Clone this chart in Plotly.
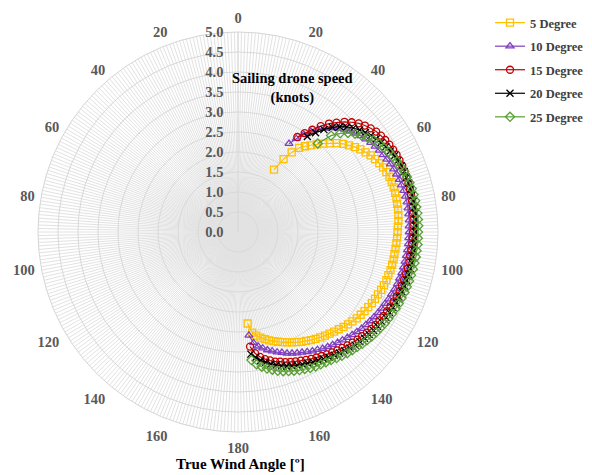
import plotly.graph_objects as go

# True wind angle (degrees) for each data point
twa = [30, 32, 34, 36, 38, 40, 42, 44, 46, 48,
       50, 52, 54, 56, 58, 60, 62, 64, 66, 68,
       70, 72, 74, 76, 78, 80, 82, 84, 86, 88,
       90, 92, 94, 96, 98, 100, 102, 104, 106, 108,
       110, 112, 114, 116, 118, 120, 122, 124, 126, 128,
       130, 132, 134, 136, 138, 140, 142, 144, 146, 148,
       150, 152, 154, 156, 158, 160, 162, 164, 166, 168,
       170, 172, 174]

# Sailing drone speed (knots) per heel angle series
speed_5 = [1.8, 2.15, 2.4, 2.6, 2.72, 2.83, 2.95, 3.07, 3.19, 3.32,
           3.43, 3.52, 3.61, 3.69, 3.76, 3.83, 3.88, 3.93, 3.97, 4.0,
           4.03, 4.04, 4.05, 4.05, 4.05, 4.04, 4.04, 4.03, 4.02, 4.0,
           3.99, 3.98, 3.97, 3.96, 3.95, 3.95, 3.94, 3.93, 3.91, 3.9,
           3.88, 3.86, 3.83, 3.81, 3.79, 3.76, 3.73, 3.7, 3.67, 3.63,
           3.59, 3.55, 3.5, 3.46, 3.42, 3.38, 3.34, 3.3, 3.26, 3.21,
           3.17, 3.12, 3.07, 3.02, 2.97, 2.92, 2.87, 2.82, 2.76, 2.7,
           2.63, 2.54, 2.3]
speed_10 = [2.55, 2.75, 2.94, 3.1, 3.25, 3.38, 3.5, 3.6, 3.69, 3.77,
            3.84, 3.9, 3.95, 4.0, 4.04, 4.08, 4.11, 4.14, 4.17, 4.2,
            4.22, 4.24, 4.25, 4.27, 4.28, 4.29, 4.29, 4.29, 4.29, 4.28,
            4.28, 4.27, 4.27, 4.26, 4.25, 4.24, 4.23, 4.22, 4.2, 4.19,
            4.17, 4.14, 4.12, 4.09, 4.07, 4.04, 4.01, 3.98, 3.95, 3.92,
            3.88, 3.84, 3.8, 3.76, 3.72, 3.68, 3.64, 3.6, 3.55, 3.51,
            3.46, 3.41, 3.37, 3.32, 3.27, 3.21, 3.16, 3.1, 3.04, 2.97,
            2.9, 2.8, 2.6]
speed_15 = [None, 2.8, 2.98, 3.16, 3.36, 3.54, 3.68, 3.83, 3.95, 4.06,
            4.14, 4.21, 4.27, 4.31, 4.34, 4.37, 4.39, 4.41, 4.42, 4.43,
            4.43, 4.43, 4.43, 4.43, 4.42, 4.42, 4.41, 4.4, 4.4, 4.39,
            4.38, 4.37, 4.37, 4.36, 4.35, 4.35, 4.34, 4.33, 4.32, 4.31,
            4.3, 4.28, 4.26, 4.24, 4.22, 4.2, 4.17, 4.15, 4.12, 4.09,
            4.05, 4.02, 3.98, 3.94, 3.9, 3.86, 3.82, 3.78, 3.74, 3.7,
            3.66, 3.62, 3.58, 3.54, 3.5, 3.46, 3.41, 3.37, 3.31, 3.25,
            3.17, 3.06, 2.88]
speed_20 = [None, None, None, 2.95, 3.15, 3.34, 3.52, 3.66, 3.78, 3.88,
            3.97, 4.04, 4.11, 4.17, 4.22, 4.27, 4.31, 4.35, 4.37, 4.4,
            4.42, 4.43, 4.44, 4.45, 4.46, 4.46, 4.46, 4.46, 4.45, 4.45,
            4.44, 4.43, 4.43, 4.42, 4.41, 4.41, 4.4, 4.39, 4.38, 4.37,
            4.36, 4.34, 4.33, 4.31, 4.29, 4.27, 4.24, 4.21, 4.19, 4.16,
            4.13, 4.1, 4.07, 4.03, 3.99, 3.95, 3.91, 3.87, 3.83, 3.79,
            3.76, 3.72, 3.69, 3.65, 3.61, 3.57, 3.52, 3.46, 3.4, 3.33,
            3.26, 3.17, 3.07]
speed_25 = [None, None, None, None, None, None, 2.98, 3.35, 3.55, 3.7,
            3.82, 3.92, 4.01, 4.09, 4.16, 4.21, 4.27, 4.31, 4.35, 4.38,
            4.42, 4.44, 4.46, 4.48, 4.49, 4.5, 4.5, 4.51, 4.51, 4.51,
            4.5, 4.5, 4.5, 4.49, 4.49, 4.48, 4.47, 4.46, 4.45, 4.44,
            4.43, 4.41, 4.4, 4.38, 4.36, 4.34, 4.32, 4.29, 4.27, 4.24,
            4.21, 4.18, 4.14, 4.11, 4.08, 4.04, 4.0, 3.96, 3.93, 3.9,
            3.88, 3.85, 3.81, 3.78, 3.74, 3.7, 3.66, 3.61, 3.55, 3.49,
            3.42, 3.34, 3.22]

series_names = ["5 Degree", "10 Degree", "15 Degree", "20 Degree", "25 Degree"]
series_values = [speed_5, speed_10, speed_15, speed_20, speed_25]
series_colors = ["#FFC000", "#7F3FBF", "#C00000", "#000000", "#5B9E36"]
series_symbols = ["square-open", "triangle-up-open", "circle-open", "x-thin-open", "diamond-open"]

# axis tick labels
angle_label_positions = [0, 20, 40, 60, 80, 100, 120, 140, 160, 180,
                         200, 220, 240, 260, 280, 300, 320, 340]
angle_label_text = ["0", "20", "40", "60", "80", "100", "120", "140", "160", "180",
                    "160", "140", "120", "100", "80", "60", "40", "20"]
radial_tick_values = [0, 0.5, 1.0, 1.5, 2.0, 2.5, 3.0, 3.5, 4.0, 4.5, 5.0]
radial_tick_text = ["0.0", "0.5", "1.0", "1.5", "2.0", "2.5", "3.0", "3.5", "4.0", "4.5", "5.0"]

# dense 1-degree spokes, labelled only every 20 degrees
grid_angles = list(range(0, 360))
label_map = dict(zip(angle_label_positions, angle_label_text))
grid_text = [label_map.get(a, "") for a in grid_angles]

# the page body adds an 8 px margin, so the figure is drawn 8 px in from the corner
W, H = 584, 467

fig = go.Figure()
for name, vals, col, sym in zip(series_names, series_values, series_colors, series_symbols):
    fig.add_trace(go.Scatterpolar(
        r=vals, theta=twa, mode="lines+markers", name=name,
        legendgroup=name,
        line=dict(color=col, width=1.2),
        marker=dict(symbol=sym, size=7, color=col, line=dict(width=1.3, color=col)),
    ))

label_font = dict(family="Liberation Serif", size=14.5, color="#595959", weight="bold")

fig.update_layout(
    width=W, height=H,
    margin=dict(l=0, r=0, t=0, b=0),
    paper_bgcolor="white",
    showlegend=True,
    legend=dict(x=482 / W, y=1.0, xanchor="left", yanchor="top",
                font=dict(family="Liberation Serif", size=12.5, color="#404040", weight="bold"),
                traceorder="grouped", tracegroupgap=4.3, itemwidth=30,
                bgcolor="rgba(0,0,0,0)"),
    polar=dict(
        domain=dict(x=[30 / W, 430 / W], y=[1 - 424 / H, 1 - 24 / H]),
        bgcolor="white",
        angularaxis=dict(
            rotation=90, direction="clockwise",
            tickmode="array", tickvals=grid_angles, ticktext=grid_text,
            showgrid=True, gridcolor="#e2e2e2", gridwidth=0.6,
            showline=True, linecolor="#d6d6d6", linewidth=1,
            ticks="outside", ticklen=3, tickcolor="rgba(0,0,0,0)",
            tickfont=label_font,
        ),
        radialaxis=dict(
            range=[0, 5], tickmode="array", tickvals=radial_tick_values,
            ticktext=radial_tick_text, angle=90, tickangle=90,
            side="counterclockwise",
            showline=True, linecolor="#d6d6d6", linewidth=1,
            showgrid=True, gridcolor="#d9d9d9", gridwidth=1,
            ticks="outside", ticklen=9, tickcolor="rgba(0,0,0,0)",
            tickfont=label_font,
        ),
    ),
    annotations=[
        dict(text="<b>Sailing drone speed</b><br><b>(knots)</b>", x=284 / W, y=1 - 80 / H,
             xref="paper", yref="paper", xanchor="center", yanchor="middle", showarrow=False,
             font=dict(family="Liberation Serif", size=14.5, color="#000000")),
        dict(text="<b>True Wind Angle [º]</b>", x=232 / W, y=1 - 456 / H,
             xref="paper", yref="paper", xanchor="center", yanchor="middle", showarrow=False,
             font=dict(family="Liberation Serif", size=15, color="#000000")),
    ],
)

fig.write_html("out.html")
